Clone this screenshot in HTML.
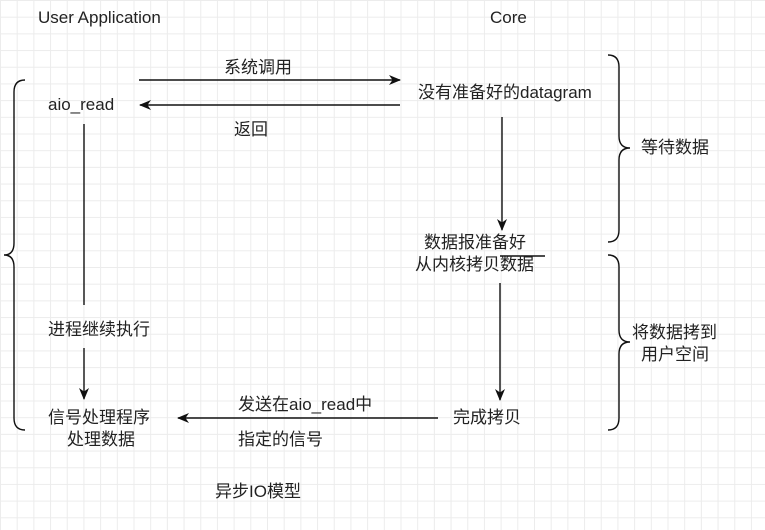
<!DOCTYPE html>
<html><head><meta charset="utf-8"><style>
html,body{margin:0;padding:0}
body{width:765px;height:530px;position:relative;overflow:hidden;background:#fff;
background-image:linear-gradient(#ececec 1px,transparent 1px),linear-gradient(90deg,#ececec 1px,transparent 1px);background-size:16.7px 16.7px;
font-family:"Liberation Sans","Noto Sans CJK SC",sans-serif;font-size:17px;color:#222}
.t{position:absolute;white-space:nowrap;line-height:20px}
svg{position:absolute;left:0;top:0}
</style></head><body>
<svg width="765" height="530" viewBox="0 0 765 530">
<defs><marker id="a" markerWidth="12" markerHeight="12" refX="11" refY="6" orient="auto" markerUnits="userSpaceOnUse"><path d="M0,1 L12,6 L0,11 L3.5,6 Z" fill="#111"/></marker></defs>
<g stroke="#111" stroke-width="1.4" fill="none">
<line x1="139" y1="80" x2="400" y2="80" marker-end="url(#a)"/>
<line x1="400" y1="105" x2="140" y2="105" marker-end="url(#a)"/>
<line x1="84" y1="124" x2="84" y2="305"/>
<line x1="84" y1="348" x2="84" y2="399" marker-end="url(#a)"/>
<line x1="502" y1="117" x2="502" y2="230" marker-end="url(#a)"/>
<line x1="500" y1="283" x2="500" y2="400" marker-end="url(#a)"/>
<line x1="438" y1="418" x2="178" y2="418" marker-end="url(#a)"/>
<line x1="500" y1="256" x2="545" y2="256"/>
<path d="M25,80 Q14,80 14,92 L14,243 Q14,255 4,255 Q14,255 14,267 L14,418 Q14,430 25,430"/>
<path d="M608,55 Q619,55 619,67 L619,136 Q619,148 630,148 Q619,148 619,160 L619,230 Q619,242 608,242"/>
<path d="M608,255 Q619,255 619,267 L619,330 Q619,342 630,342 Q619,342 619,354 L619,418 Q619,430 608,430"/>
</g></svg>
<div class="t" style="left:38px;top:8px">User Application</div>
<div class="t" style="left:490px;top:8px">Core</div>
<div class="t" style="left:224px;top:58px">系统调用</div>
<div class="t" style="left:48px;top:95px">aio_read</div>
<div class="t" style="left:234px;top:120px">返回</div>
<div class="t" style="left:418px;top:83px">没有准备好的datagram</div>
<div class="t" style="left:424px;top:233px">数据报准备好</div>
<div class="t" style="left:415px;top:255px">从内核拷贝数据</div>
<div class="t" style="left:48px;top:320px">进程继续执行</div>
<div class="t" style="left:48px;top:408px">信号处理程序</div>
<div class="t" style="left:67px;top:430px">处理数据</div>
<div class="t" style="left:238px;top:395px">发送在aio_read中</div>
<div class="t" style="left:238px;top:430px">指定的信号</div>
<div class="t" style="left:453px;top:408px">完成拷贝</div>
<div class="t" style="left:641px;top:138px">等待数据</div>
<div class="t" style="left:632px;top:323px">将数据拷到</div>
<div class="t" style="left:641px;top:345px">用户空间</div>
<div class="t" style="left:215px;top:482px">异步IO模型</div>
</body></html>
